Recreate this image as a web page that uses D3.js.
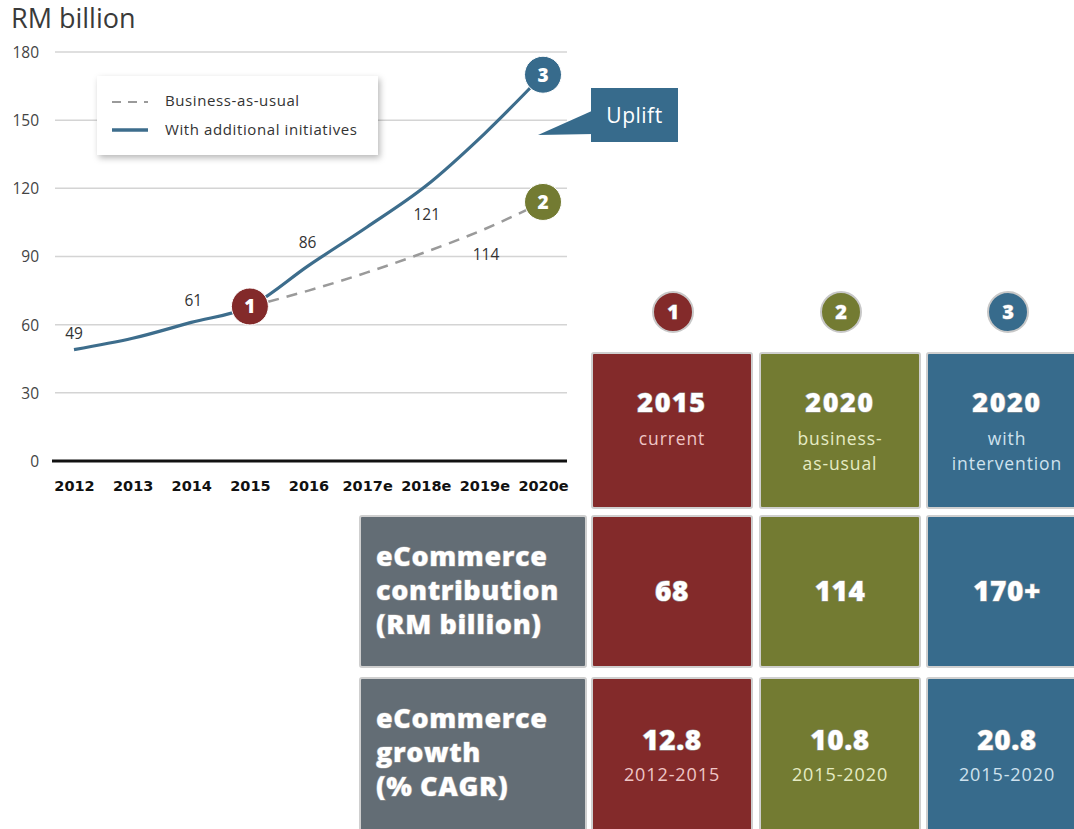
<!DOCTYPE html>
<html>
<head>
<meta charset="utf-8">
<script src="https://cdn.jsdelivr.net/npm/d3@7"></script>
<style>
  html, body { margin: 0; padding: 0; background: #fff; }
  svg { display: block; font-family: "Open Sans", Lato, sans-serif; }
</style>
</head>
<body>
<svg id="chart" width="1074" height="829"></svg>
<script>
// eCommerce contribution, RM billion
const years = ["2012", "2013", "2014", "2015", "2016", "2017e", "2018e", "2019e", "2020e"];
const withInitiatives = [49, 54, 61, 68, 86, 103, 121, 144, 170];
const businessAsUsual = [null, null, null, 68, 75, 83, 92, 102, 114];
const yTicks = [0, 30, 60, 90, 120, 150, 180];

// value labels printed on the chart
const labelYears = ["2012", "2014", "2016", "2018e", "2020e"];
const labelValues = [49, 61, 86, 121, 114];

// milestone markers
const markerYears = ["2015", "2020e", "2020e"];
const markerValues = [68, 114, 170];
const markerNumbers = ["1", "2", "3"];

// summary table
const columnTitles = ["2015", "2020", "2020"];
const columnSubtitles = [["current"], ["business-", "as-usual"], ["with", "intervention"]];
const rowLabels = [["eCommerce", "contribution", "(RM billion)"], ["eCommerce", "growth", "(% CAGR)"]];
const contribution = ["68", "114", "170+"];
const cagr = ["12.8", "10.8", "20.8"];
const cagrPeriods = ["2012-2015", "2015-2020", "2015-2020"];

const RED = "#832a2a", OLIVE = "#737b32", BLUE = "#376b8c", GREY = "#636d75";
const markerColors = [RED, OLIVE, BLUE];
const subColors = ["#efc6c6", "#e6ebc4", "#cfe2ee"];

const svg = d3.select("#chart");

// ---------- line chart ----------
const x = d3.scalePoint().domain(years).range([74, 543]);
const y = d3.scaleLinear().domain([0, 180]).range([461, 52]);
const gridX0 = 55, gridX1 = 567;

svg.append("text").attr("x", 11).attr("y", 28)
  .attr("font-size", 27).attr("fill", "#3a3a3a").attr("font-weight", 400)
  .text("RM billion");

// y tick labels
const yAxis = d3.axisLeft(y).tickValues(yTicks).tickSize(0).tickPadding(0);
const gy = svg.append("g").attr("transform", `translate(39,0)`).call(yAxis);
gy.select(".domain").remove();
gy.selectAll("text").attr("font-size", 15.5).attr("fill", "#444")
  .attr("font-family", "'Open Sans', sans-serif").attr("dy", "0.35em");

// horizontal gridlines
svg.append("g").selectAll("line").data(yTicks.filter(d => d > 0)).join("line")
  .attr("x1", gridX0).attr("x2", gridX1)
  .attr("y1", d => y(d)).attr("y2", d => y(d))
  .attr("stroke", "#d4d4d4").attr("stroke-width", 1.5);

svg.append("line").attr("x1", 52).attr("x2", gridX1)
  .attr("y1", y(0)).attr("y2", y(0))
  .attr("stroke", "#111").attr("stroke-width", 3);

const xAxis = d3.axisBottom(x).tickSize(0).tickPadding(0);
const gx = svg.append("g").attr("transform", `translate(0,${y(0) + 30})`).call(xAxis);
gx.select(".domain").remove();
gx.selectAll("text").attr("font-size", 14.5).attr("font-weight", 700)
  .attr("fill", "#111").attr("font-family", "'DejaVu Sans', sans-serif").attr("dy", 0);

// lines
const lineGen = d3.line()
  .defined(d => d.v != null)
  .x(d => x(d.year)).y(d => y(d.v))
  .curve(d3.curveMonotoneX);

const bauData = years.map((yr, i) => ({ year: yr, v: businessAsUsual[i] }));
const withData = years.map((yr, i) => ({ year: yr, v: withInitiatives[i] }));

svg.append("path").datum(bauData).attr("d", lineGen)
  .attr("fill", "none").attr("stroke", "#9a9a9a").attr("stroke-width", 2.5)
  .attr("stroke-dasharray", "11,8");

svg.append("path").datum(withData).attr("d", lineGen)
  .attr("fill", "none").attr("stroke", "#3d6d8c").attr("stroke-width", 3.2);

// value labels
const labelOffsets = [[0, -11], [2, -16], [-1, -18], [1, 34], [-57, 58]];
svg.append("g").selectAll("text").data(labelYears).join("text")
  .attr("x", (d, i) => x(d) + labelOffsets[i][0])
  .attr("y", (d, i) => y(labelValues[i]) + labelOffsets[i][1])
  .attr("text-anchor", "middle").attr("font-size", 15.5).attr("fill", "#333")
  .text((d, i) => labelValues[i]);

// legend
const defs = svg.append("defs");
const shadow = defs.append("filter").attr("id", "shadow")
  .attr("x", "-10%").attr("y", "-20%").attr("width", "130%").attr("height", "160%");
shadow.append("feDropShadow").attr("dx", 2).attr("dy", 3).attr("stdDeviation", 3)
  .attr("flood-color", "#000").attr("flood-opacity", 0.28);

const legend = svg.append("g");
legend.append("rect").attr("x", 97).attr("y", 76).attr("width", 281).attr("height", 79)
  .attr("fill", "#fff").attr("filter", "url(#shadow)");
legend.append("line").attr("x1", 112).attr("x2", 148).attr("y1", 102).attr("y2", 102)
  .attr("stroke", "#9a9a9a").attr("stroke-width", 2).attr("stroke-dasharray", "9,7");
legend.append("line").attr("x1", 112).attr("x2", 148).attr("y1", 130).attr("y2", 130)
  .attr("stroke", "#3d6d8c").attr("stroke-width", 3.5);
legend.append("text").attr("x", 165).attr("y", 106).attr("font-size", 15)
  .attr("letter-spacing", 0.6).attr("fill", "#333")
  .text("Business-as-usual");
legend.append("text").attr("x", 165).attr("y", 135).attr("font-size", 15)
  .attr("letter-spacing", 0.6).attr("fill", "#333")
  .text("With additional initiatives");

// uplift callout
const callout = svg.append("g");
callout.append("path").attr("d", "M594,110 L538,135 L594,134 Z").attr("fill", BLUE);
callout.append("rect").attr("x", 591).attr("y", 88).attr("width", 87).attr("height", 54)
  .attr("fill", BLUE);
callout.append("text").attr("x", 634.5).attr("y", 123).attr("text-anchor", "middle")
  .attr("font-size", 21).attr("letter-spacing", 0.5).attr("fill", "#fff").text("Uplift");

// milestone markers on the chart
const markers = svg.append("g").selectAll("g").data(markerYears).join("g")
  .attr("transform", (d, i) => `translate(${x(d)},${y(markerValues[i])})`);
markers.append("circle").attr("r", 18.5).attr("fill", (d, i) => markerColors[i])
  .attr("stroke", "#fff").attr("stroke-width", 1);
markers.append("text").attr("text-anchor", "middle").attr("dy", "0.36em")
  .attr("font-size", 19).attr("font-weight", 800).attr("fill", "#fff")
  .text((d, i) => markerNumbers[i]);

// ---------- summary table ----------
const colX = [592, 760, 927];
const colW = [160, 160, 150];
const rowY = [353, 516, 678];
const rowH = [155, 151, 160];

const table = svg.append("g");

// numbered headers
const heads = table.selectAll("g.head").data(markerNumbers).join("g").attr("class", "head")
  .attr("transform", (d, i) => `translate(${colX[i] + 81},312)`);
heads.append("circle").attr("r", 20).attr("fill", (d, i) => markerColors[i])
  .attr("stroke", "#c8c8c8").attr("stroke-width", 2);
heads.append("text").attr("text-anchor", "middle").attr("dy", "0.36em")
  .attr("font-size", 20).attr("font-weight", 800).attr("fill", "#fff")
  .attr("stroke", "#aaa").attr("stroke-width", 0.8).attr("paint-order", "stroke")
  .text(d => d);

function cell(xp, yp, w, h, fill) {
  table.append("rect").attr("x", xp).attr("y", yp).attr("width", w).attr("height", h)
    .attr("fill", fill).attr("stroke", "#cfcfcf").attr("stroke-width", 2).attr("rx", 2);
}
function boldText(xp, yp, txt, size, anchor, spacing) {
  table.append("text").attr("x", xp).attr("y", yp).attr("text-anchor", anchor || "middle")
    .attr("font-size", size).attr("font-weight", 800).attr("fill", "#fff")
    .attr("letter-spacing", spacing || 0)
    .attr("stroke", "#9a9a9a").attr("stroke-width", 1.2).attr("paint-order", "stroke")
    .text(txt);
}
// multi-line light text drawn as one block of tspans
function lightLines(xp, yp, lines, size, color, lineGap) {
  const t = table.append("text").attr("x", xp).attr("y", yp).attr("text-anchor", "middle")
    .attr("font-size", size).attr("letter-spacing", 0.9).attr("fill", color);
  lines.forEach((l, j) => t.append("tspan").attr("x", xp).attr("dy", j === 0 ? 0 : lineGap).text(l));
}

// header row
columnTitles.forEach((t, i) => {
  const cx = colX[i] + colW[i] / 2 + (i === 2 ? 5 : 0);
  cell(colX[i], rowY[0], colW[i] + (i === 2 ? 10 : 0), rowH[0], markerColors[i]);
  boldText(cx, 412, t, 27, "middle", 1.5);
  lightLines(cx, 445, columnSubtitles[i], 17.5, subColors[i], 24.5);
});

// row labels
rowLabels.forEach((lines, r) => {
  cell(360, rowY[r + 1], 226, rowH[r + 1], GREY);
  lines.forEach((l, j) => boldText(376, rowY[r + 1] + 50 + j * 34, l, 27, "start", 0.6));
});

// contribution row
contribution.forEach((v, i) => {
  const cx = colX[i] + colW[i] / 2 + (i === 2 ? 5 : 0);
  cell(colX[i], rowY[1], colW[i] + (i === 2 ? 10 : 0), rowH[1], markerColors[i]);
  boldText(cx, 601, v, 28, "middle", 0.5);
});

// growth row
cagr.forEach((v, i) => {
  const cx = colX[i] + colW[i] / 2 + (i === 2 ? 5 : 0);
  cell(colX[i], rowY[2], colW[i] + (i === 2 ? 10 : 0), rowH[2], markerColors[i]);
  boldText(cx, 750, v, 28, "middle", 0.5);
  lightLines(cx, 781, [cagrPeriods[i]], 18, subColors[i], 0);
});
</script>
</body>
</html>
